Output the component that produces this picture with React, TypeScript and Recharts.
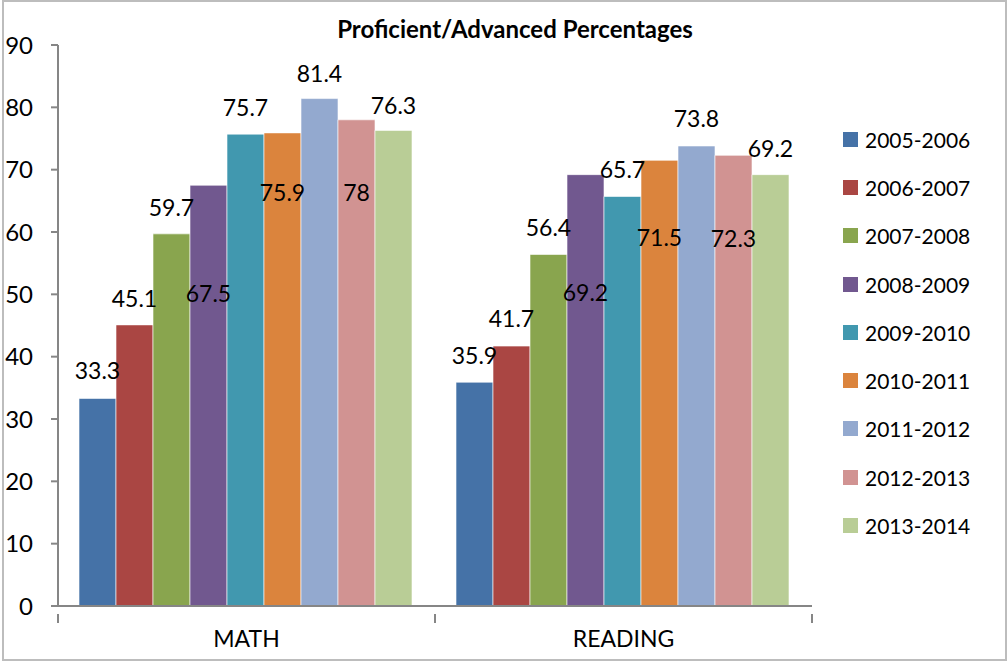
import { BarChart, Bar, XAxis, YAxis, Legend, LabelList } from 'recharts'

const years = [
  '2005-2006',
  '2006-2007',
  '2007-2008',
  '2008-2009',
  '2009-2010',
  '2010-2011',
  '2011-2012',
  '2012-2013',
  '2013-2014',
]
const subjects = ['MATH', 'READING']
const mathScores = [33.3, 45.1, 59.7, 67.5, 75.7, 75.9, 81.4, 78, 76.3]
const readingScores = [35.9, 41.7, 56.4, 69.2, 65.7, 71.5, 73.8, 72.3, 69.2]
const yTicks = [0, 10, 20, 30, 40, 50, 60, 70, 80, 90]

const colors = [
  '#4572A7',
  '#AA4643',
  '#89A54E',
  '#71588F',
  '#4198AF',
  '#DB843D',
  '#93A9CF',
  '#D19392',
  '#B9CD96',
]

// where the data label sits relative to the bar top (px), [math, reading]
const labelShift = [
  [-28, -27],
  [-27, -28],
  [-27, -27],
  [108, 117],
  [-27, -27],
  [59, 77],
  [-26, -28],
  [72, 83],
  [-25, -27],
]

const data = subjects.map((s, i) => {
  const row: Record<string, string | number> = { subject: s }
  years.forEach((y, j) => {
    row[y] = i === 0 ? mathScores[j] : readingScores[j]
  })
  return row
})

const FONT = 'Lato, "Open Sans", sans-serif'
const AXIS = '#868686'
const W = 1008
const H = 662
const LEGEND_W = 160
// legend width gets added to the right offset by recharts
const M = { top: 45, right: 196 - LEGEND_W, bottom: 16, left: 8 }
const Y_W = 50
const BAND = (W - M.left - Y_W - 196) / subjects.length

function CategoryTick(props: any) {
  const { x, y, payload, index } = props
  const half = BAND / 2
  return (
    <g>
      <line x1={x - half} y1={y} x2={x - half} y2={y + 9} stroke={AXIS} strokeWidth={2} />
      {index === subjects.length - 1 && (
        <line x1={x + half} y1={y} x2={x + half} y2={y + 9} stroke={AXIS} strokeWidth={2} />
      )}
      <text x={x} y={y + 24} textAnchor="middle" dominantBaseline="central" fill="#000" fontSize={23} fontFamily={FONT}>
        {payload.value}
      </text>
    </g>
  )
}

function makeLabel(j: number) {
  return (props: any) => {
    const { x, y, width, value, index } = props
    return (
      <text
        x={x + width / 2}
        y={y + labelShift[j][index]}
        textAnchor="middle"
        dominantBaseline="central"
        fill="#000"
        fontSize={23}
        fontFamily={FONT}
      >
        {value}
      </text>
    )
  }
}

function LegendBox() {
  return (
    <div style={{ fontFamily: FONT }}>
      {years.map((y, j) => (
        <div key={y} style={{ display: 'flex', alignItems: 'center', height: 48.3 }}>
          <span style={{ width: 15, height: 15, background: colors[j], display: 'inline-block', marginRight: 7 }} />
          <span style={{ fontSize: 21, color: '#000' }}>{y}</span>
        </div>
      ))}
    </div>
  )
}

export default function App() {
  return (
    <div style={{ position: 'absolute', left: 0, top: 0, width: W, height: H, background: '#fff', fontFamily: FONT }}>
      <div
        style={{
          position: 'absolute',
          left: 2,
          top: 0,
          width: 1005,
          height: 661,
          border: '2px solid #bdbdbd',
          boxSizing: 'border-box',
        }}
      />
      <div
        style={{
          position: 'absolute',
          left: 0,
          top: 14,
          width: 1030,
          textAlign: 'center',
          fontWeight: 700,
          fontSize: 24,
          color: '#000',
        }}
      >
        Proficient/Advanced Percentages
      </div>
      <BarChart width={W} height={H} data={data} margin={M} barCategoryGap={21} barGap={0}>
        <XAxis
          dataKey="subject"
          height={40}
          tickLine={false}
          axisLine={{ stroke: AXIS, strokeWidth: 2 }}
          tick={<CategoryTick />}
          interval={0}
        />
        <YAxis
          width={Y_W}
          domain={[0, 90]}
          ticks={yTicks}
          tickSize={7}
          tickMargin={18}
          axisLine={{ stroke: AXIS, strokeWidth: 2 }}
          tickLine={{ stroke: AXIS, strokeWidth: 2 }}
          tick={{ fill: '#000', fontSize: 24, fontFamily: FONT }}
        />
        <Legend
          layout="vertical"
          align="right"
          verticalAlign="top"
          width={LEGEND_W}
          wrapperStyle={{ left: 843, top: 115, width: LEGEND_W }}
          content={<LegendBox />}
        />
        {years.map((y, j) => (
          <Bar key={y} dataKey={y} fill={colors[j]} stroke="#ffffff" strokeWidth={0.6} isAnimationActive={false}>
            <LabelList dataKey={y} content={makeLabel(j)} />
          </Bar>
        ))}
      </BarChart>
    </div>
  )
}
